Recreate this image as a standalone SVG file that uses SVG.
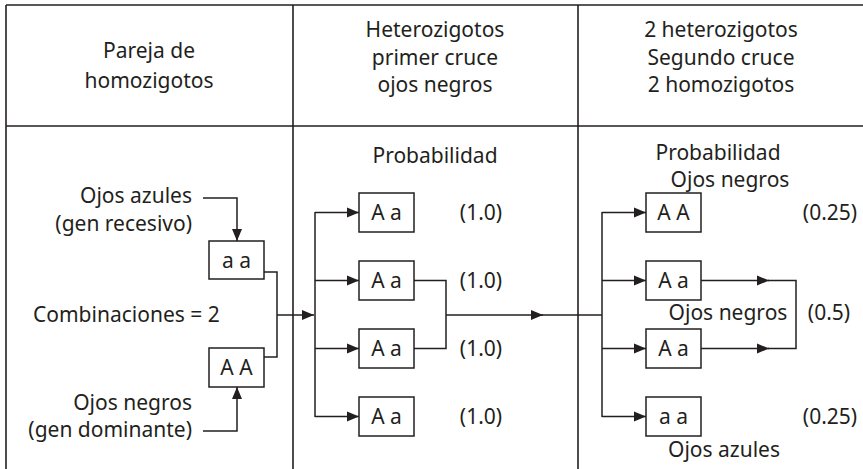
<svg xmlns="http://www.w3.org/2000/svg" width="863" height="469" viewBox="0 0 863 469">
<style>
text{font-family:"Noto Sans","Liberation Sans",sans-serif;font-size:21px;fill:#231f20}
.c{text-anchor:middle}
.r{text-anchor:end}
.grid{stroke:#231f20;stroke-width:1.6;fill:none}
.box{fill:#fff;stroke:#231f20;stroke-width:1.5}
.ln{stroke:#231f20;stroke-width:1.5;fill:none}
.arr{marker-end:url(#ah)}
</style>
<defs>
<marker id="ah" markerUnits="userSpaceOnUse" markerWidth="12" markerHeight="12" viewBox="0 0 12 12" refX="12" refY="6" orient="auto">
<path d="M0,1 L12,6 L0,11 z" fill="#231f20"/>
</marker>
</defs>
<rect width="863" height="469" fill="#fff"/>
<g id="table" class="grid">
<line x1="6" y1="5" x2="863" y2="5"/>
<line x1="6" y1="126" x2="863" y2="126"/>
<line x1="6" y1="5" x2="6" y2="469"/>
<line x1="293" y1="5" x2="293" y2="469"/>
<line x1="578" y1="5" x2="578" y2="469"/>
</g>
<g id="headers">
<text class="c" x="149" y="58">Pareja de</text>
<text class="c" x="149" y="88">homozigotos</text>
<text class="c" x="435" y="37">Heterozigotos</text>
<text class="c" x="435" y="65">primer cruce</text>
<text class="c" x="435" y="92">ojos negros</text>
<text class="c" x="721" y="37">2 heterozigotos</text>
<text class="c" x="721" y="65">Segundo cruce</text>
<text class="c" x="721" y="92">2 homozigotos</text>
<text class="c" x="435" y="163">Probabilidad</text>
<text class="c" x="718" y="160">Probabilidad</text>
</g>
<g id="labels">
<text class="r" x="192" y="203">Ojos azules</text>
<text class="r" x="192" y="231">(gen recesivo)</text>
<text x="33" y="322">Combinaciones = 2</text>
<text class="r" x="192" y="410">Ojos negros</text>
<text class="r" x="192" y="437">(gen dominante)</text>
<text class="c" x="481" y="220">(1.0)</text>
<text class="c" x="481" y="288">(1.0)</text>
<text class="c" x="481" y="356">(1.0)</text>
<text class="c" x="481" y="424">(1.0)</text>
<text class="c" x="730" y="187">Ojos negros</text>
<text class="c" x="728" y="320">Ojos negros</text>
<text class="c" x="724" y="457">Ojos azules</text>
<text class="c" x="830" y="220">(0.25)</text>
<text class="c" x="829" y="320">(0.5)</text>
<text class="c" x="830" y="424">(0.25)</text>
</g>
<g id="connectors">
<polyline class="ln arr" points="203,198 237,198 237,241"/>
<polyline class="ln arr" points="203,431 237,431 237,387"/>
<polyline class="ln" points="264,272 277,272 277,357 264,357"/>
<line class="ln arr" x1="277" y1="315" x2="314" y2="315"/>
<line class="ln" x1="315" y1="212" x2="315" y2="417"/>
<line class="ln arr" x1="315" y1="212.5" x2="359" y2="212.5"/>
<line class="ln arr" x1="315" y1="280.5" x2="359" y2="280.5"/>
<line class="ln arr" x1="315" y1="348.5" x2="359" y2="348.5"/>
<line class="ln arr" x1="315" y1="416.5" x2="359" y2="416.5"/>
<polyline class="ln" points="414,280.5 446,280.5 446,348.5 414,348.5"/>
<line class="ln arr" x1="446" y1="315" x2="543" y2="315"/>
<line class="ln" x1="542" y1="315" x2="602" y2="315"/>
<line class="ln" x1="602" y1="212" x2="602" y2="417"/>
<line class="ln arr" x1="602" y1="212.5" x2="646" y2="212.5"/>
<line class="ln arr" x1="602" y1="280.5" x2="646" y2="280.5"/>
<line class="ln arr" x1="602" y1="348.5" x2="646" y2="348.5"/>
<line class="ln arr" x1="602" y1="416.5" x2="646" y2="416.5"/>
<line class="ln arr" x1="701" y1="280.5" x2="769" y2="280.5"/>
<line class="ln arr" x1="701" y1="348.5" x2="769" y2="348.5"/>
<polyline class="ln" points="768,280.5 796,280.5 796,348.5 768,348.5"/>
</g>
<g id="n-aa-left"><rect class="box" x="209" y="241" width="55" height="38"/><text class="c" x="236.5" y="268">a a</text></g>
<g id="n-AA-left"><rect class="box" x="209" y="348" width="55" height="39"/><text class="c" x="236.5" y="375">A A</text></g>
<g id="n-Aa-1"><rect class="box" x="359" y="193" width="55" height="39"/><text class="c" x="386.5" y="220">A a</text></g>
<g id="n-Aa-2"><rect class="box" x="359" y="261" width="55" height="39"/><text class="c" x="386.5" y="288">A a</text></g>
<g id="n-Aa-3"><rect class="box" x="359" y="329" width="55" height="39"/><text class="c" x="386.5" y="356">A a</text></g>
<g id="n-Aa-4"><rect class="box" x="359" y="397" width="55" height="39"/><text class="c" x="386.5" y="424">A a</text></g>
<g id="n-AA-r"><rect class="box" x="646" y="193" width="55" height="39"/><text class="c" x="673.5" y="220">A A</text></g>
<g id="n-Aa-r2"><rect class="box" x="646" y="261" width="55" height="39"/><text class="c" x="673.5" y="288">A a</text></g>
<g id="n-Aa-r3"><rect class="box" x="646" y="329" width="55" height="39"/><text class="c" x="673.5" y="356">A a</text></g>
<g id="n-aa-r4"><rect class="box" x="646" y="397" width="55" height="39"/><text class="c" x="673.5" y="424">a a</text></g>
</svg>
